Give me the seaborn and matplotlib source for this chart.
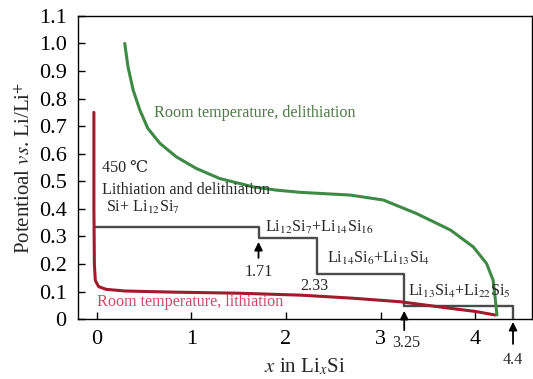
import numpy as np
import pandas as pd
import matplotlib
matplotlib.use("Agg")
import matplotlib.pyplot as plt
import seaborn as sns

# ---- data ----
lith_x = [-0.03, -0.03, -0.025, -0.015, 0.02, 0.1, 0.3, 0.8, 1.5, 2.15, 2.7, 3.21, 3.74, 4.0, 4.21]
lith_y = [0.75, 0.40, 0.20, 0.14, 0.118, 0.108, 0.102, 0.098, 0.094, 0.087, 0.076, 0.063, 0.039, 0.028, 0.015]

delith_x = [0.296, 0.33, 0.385, 0.455, 0.54, 0.667, 0.84, 1.05, 1.30, 1.65, 1.9, 2.15, 2.68, 3.03,
            3.38, 3.74, 3.98, 4.12, 4.19, 4.21, 4.23]
delith_y = [1.00, 0.916, 0.831, 0.759, 0.692, 0.638, 0.589, 0.547, 0.510, 0.480, 0.468, 0.460, 0.450, 0.432,
            0.383, 0.323, 0.262, 0.202, 0.141, 0.081, 0.015]

step_edges = [-0.02, 1.71, 2.33, 3.25, 4.4]
step_levels = [0.335, 0.293, 0.162, 0.048]

yticks = [0, 0.1, 0.2, 0.3, 0.4, 0.5, 0.6, 0.7, 0.8, 0.9, 1.0, 1.1]
ytick_labels = ["0", "0.1", "0.2", "0.3", "0.4", "0.5", "0.6", "0.7", "0.8", "0.9", "1.0", "1.1"]
xticks = [0, 1, 2, 3, 4]

# ---- style ----
sns.set_theme(style="ticks")
plt.rcParams["font.family"] = ["Liberation Serif", "DejaVu Serif", "Noto Sans CJK SC"]
plt.rcParams["mathtext.fontset"] = "stix"

fig = plt.figure(figsize=(5.33, 3.79), dpi=100)
ax = fig.add_axes([0.146, 0.158, 0.852, 0.800])

# step line (450 C)
sx = [step_edges[0]]
sy = [step_levels[0]]
for i, lv in enumerate(step_levels):
    sx += [step_edges[i + 1], step_edges[i + 1]]
    nxt = step_levels[i + 1] if i + 1 < len(step_levels) else 0.0
    sy += [lv, nxt]
step_df = pd.DataFrame({"x": sx, "y": sy})
sns.lineplot(data=step_df, x="x", y="y", sort=False, estimator=None,
             color="#4a4a4a", lw=1.7, ax=ax)

lith_df = pd.DataFrame({"x": lith_x, "y": lith_y})
sns.lineplot(data=lith_df, x="x", y="y", sort=False, estimator=None,
             color="#a01c2c", lw=2.2, ax=ax)

del_df = pd.DataFrame({"x": delith_x, "y": delith_y})
sns.lineplot(data=del_df, x="x", y="y", sort=False, estimator=None,
             color="#3d8a45", lw=2.2, ax=ax)

ax.set_xlim(-0.2, 4.6)
ax.set_ylim(0, 1.1)
ax.set_xticks(xticks)
ax.set_xticklabels([str(t) for t in xticks])
ax.set_yticks(yticks)
ax.set_yticklabels(ytick_labels)
ax.tick_params(direction="in", length=5, width=1, labelsize=16, colors="black", pad=8)
for s in ax.spines.values():
    s.set_color("black")
    s.set_linewidth(1.0)

ax.set_xlabel(r"$x$ in Li$_x$Si", fontsize=15, labelpad=5)
ax.set_ylabel(r"Potentioal $vs$. Li/Li$^{+}$", fontsize=15, labelpad=3)

fs = 11.6
ax.text(0.61, 0.733, "Room temperature, delithiation", color="#4d7a45", fontsize=fs)
ax.text(0.0, 0.047, "Room temperature, lithiation", color="#cc4a6a", fontsize=fs)
ax.text(0.06, 0.534, "450 \u2103", fontsize=fs)
ax.text(0.06, 0.454, "Lithiation and delithiation", fontsize=fs)
ax.text(0.10, 0.388, r"Si+ Li$_{12}$Si$_{7}$", fontsize=fs)
ax.text(1.78, 0.318, r"Li$_{12}$Si$_{7}$+Li$_{14}$Si$_{16}$", fontsize=fs)
ax.text(2.43, 0.205, r"Li$_{14}$Si$_{6}$+Li$_{13}$Si$_{4}$", fontsize=fs)
ax.text(3.29, 0.085, r"Li$_{13}$Si$_{4}$+Li$_{22}$Si$_{5}$", fontsize=fs)

arrow = dict(arrowstyle="-|>", color="black", lw=1.3, mutation_scale=12)
ax.annotate("", xy=(1.71, 0.29), xytext=(1.71, 0.212), arrowprops=arrow)
ax.text(1.71, 0.172, "1.71", fontsize=fs, ha="center", va="center")
ax.text(2.30, 0.12, "2.33", fontsize=fs, ha="center", va="center")
ax.annotate("", xy=(3.25, 0.04), xytext=(3.25, -0.05), arrowprops=arrow,
            annotation_clip=False)
ax.text(3.27, -0.088, "3.25", fontsize=fs, ha="center", va="center", clip_on=False)
ax.annotate("", xy=(4.4, 0.0), xytext=(4.4, -0.1), arrowprops=arrow,
            annotation_clip=False)
ax.text(4.4, -0.148, "4.4", fontsize=fs, ha="center", va="center", clip_on=False)

fig.savefig("out.png", dpi=100)
